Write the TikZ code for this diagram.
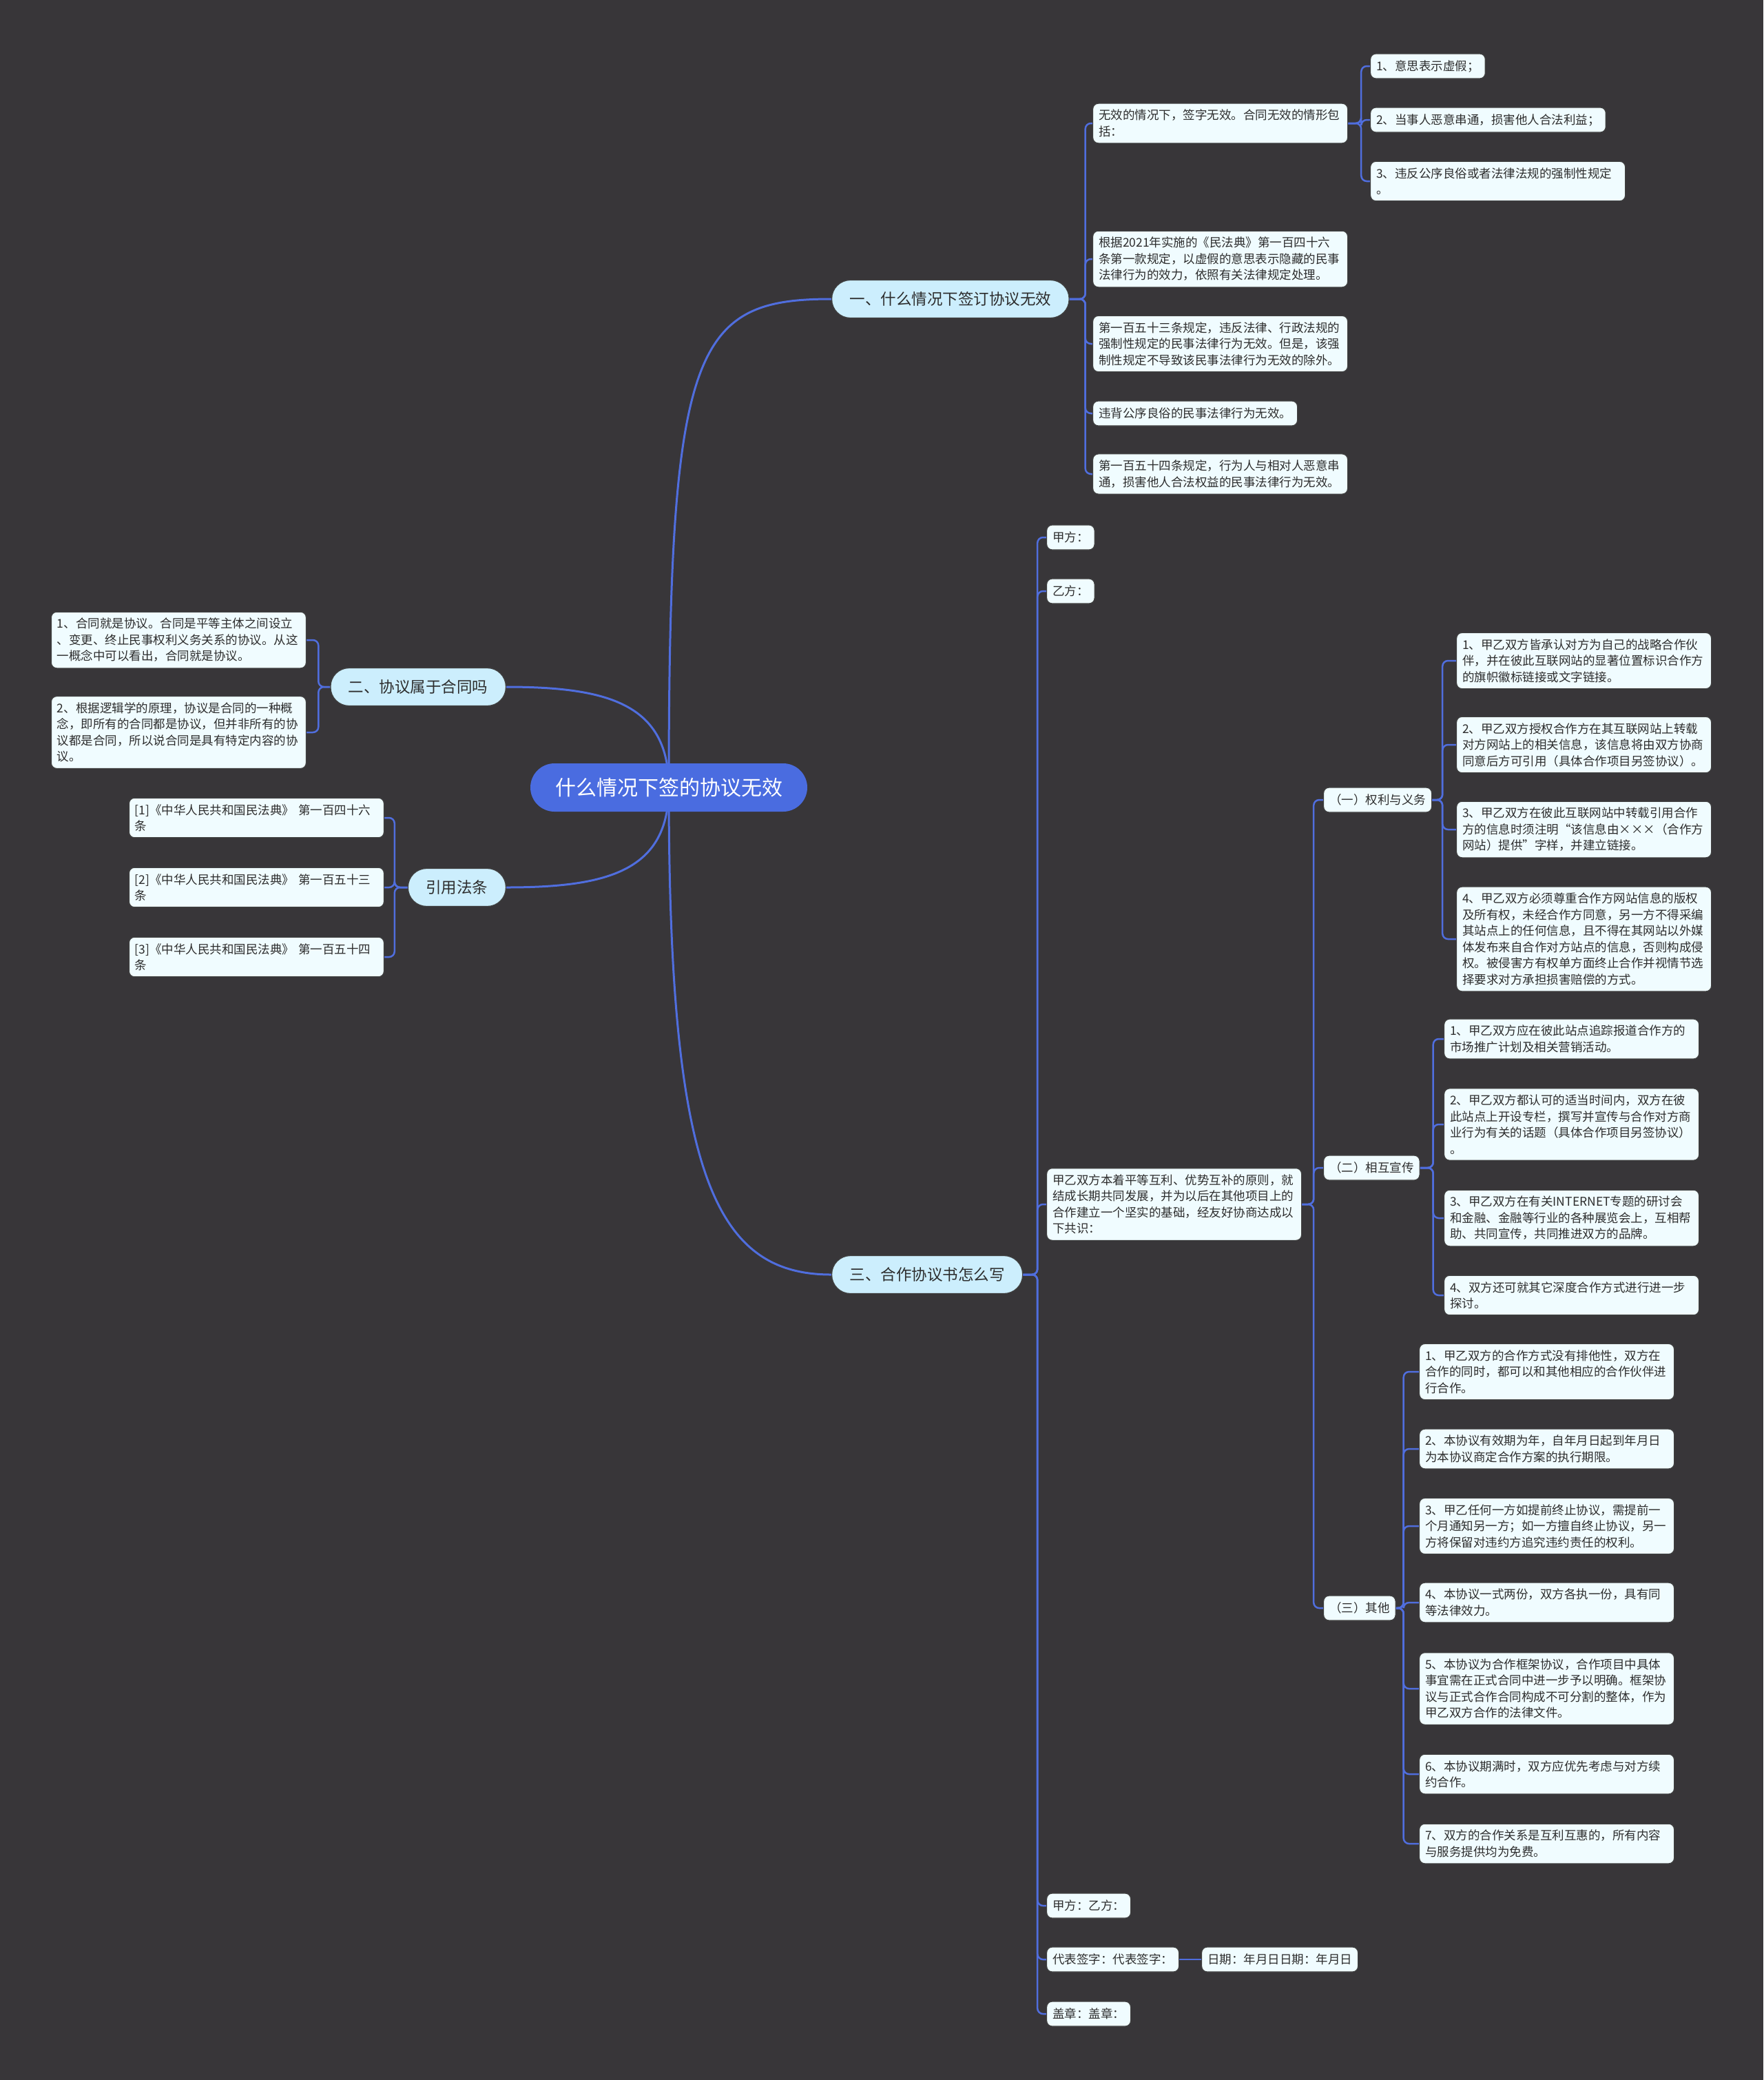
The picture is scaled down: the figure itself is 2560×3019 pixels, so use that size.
\documentclass[tikz,border=0pt]{standalone}
\usepackage{fontspec}
\setmainfont{Noto Sans CJK SC}
\usetikzlibrary{backgrounds}
\definecolor{bgdark}{RGB}{56,54,57}
\definecolor{linkblue}{RGB}{80,110,222}
\definecolor{rootblue}{RGB}{74,108,224}
\definecolor{topicfill}{RGB}{204,238,253}
\definecolor{leaffill}{RGB}{240,252,255}
\definecolor{inkgray}{RGB}{45,45,45}

\begin{document}
\begin{tikzpicture}[
    x=1pt, y=-1pt,
    root/.style = {rectangle, fill=rootblue, text=white, rounded corners=35pt, font=\fontsize{30}{36}\selectfont, minimum height=70pt, inner xsep=36pt},
    topic/.style = {rectangle, draw=black!75, line width=1.2pt, fill=topicfill, text=inkgray, rounded corners=27pt, font=\fontsize{22.5}{27}\selectfont, minimum height=55pt, inner xsep=26pt},
    box/.style = {rectangle, draw=black!75, line width=1.2pt, fill=leaffill, text=inkgray, rounded corners=8pt, font=\fontsize{17.5}{23.5}\selectfont, inner xsep=8.5pt, inner ysep=9pt, minimum height=36pt},
    leaf/.style = {box, text width=353pt, align=left},
    tag/.style = {box},
    rootlink/.style = {draw=linkblue, line width=3pt},
    link/.style = {draw=linkblue, line width=2.5pt, rounded corners=8pt}
]
\useasboundingbox (0,0) rectangle (2560,3019);

% Centre
\node (root) [root] at (971, 1143) {什么情况下签的协议无效};

% Main topics
\node (a) [topic, anchor=west] at (1207, 434) {一、什么情况下签订协议无效};
\node (b) [topic, anchor=east] at (735, 997) {二、协议属于合同吗};
\node (c) [topic, anchor=east] at (735, 1288) {引用法条};
\node (d) [topic, anchor=west] at (1207, 1850) {三、合作协议书怎么写};

% Topic one
\node (a1) [leaf, anchor=west] at (1586, 179) {无效的情况下，签字无效。合同无效的情形包\\括：};
\node (a1a) [tag, anchor=west] at (1989, 96) {1、意思表示虚假；};
\node (a1b) [tag, anchor=west] at (1989, 174) {2、当事人恶意串通，损害他人合法利益；};
\node (a1c) [leaf, anchor=west] at (1989, 263) {3、违反公序良俗或者法律法规的强制性规定\\。};
\node (a2) [leaf, anchor=west] at (1586, 376) {根据2021年实施的《民法典》第一百四十六\\条第一款规定，以虚假的意思表示隐藏的民事\\法律行为的效力，依照有关法律规定处理。};
\node (a3) [leaf, anchor=west] at (1586, 499) {第一百五十三条规定，违反法律、行政法规的\\强制性规定的民事法律行为无效。但是，该强\\制性规定不导致该民事法律行为无效的除外。};
\node (a4) [tag, anchor=west] at (1586, 600) {违背公序良俗的民事法律行为无效。};
\node (a5) [leaf, anchor=west] at (1586, 688) {第一百五十四条规定，行为人与相对人恶意串\\通，损害他人合法权益的民事法律行为无效。};

% Topic two
\node (b1) [leaf, anchor=east] at (445, 929) {1、合同就是协议。合同是平等主体之间设立\\、变更、终止民事权利义务关系的协议。从这\\一概念中可以看出，合同就是协议。};
\node (b2) [leaf, anchor=east] at (445, 1063) {2、根据逻辑学的原理，协议是合同的一种概\\念，即所有的合同都是协议，但并非所有的协\\议都是合同，所以说合同是具有特定内容的协\\议。};

% Cited articles
\node (c1) [leaf, anchor=east] at (558, 1187) {[1]《中华人民共和国民法典》 第一百四十六\\条};
\node (c2) [leaf, anchor=east] at (558, 1288) {[2]《中华人民共和国民法典》 第一百五十三\\条};
\node (c3) [leaf, anchor=east] at (558, 1389) {[3]《中华人民共和国民法典》 第一百五十四\\条};

% Topic three
\node (d1) [tag, anchor=west] at (1519, 780) {甲方：};
\node (d2) [tag, anchor=west] at (1519, 858) {乙方：};
\node (d3) [leaf, anchor=west] at (1519, 1748) {甲乙双方本着平等互利、优势互补的原则，就\\结成长期共同发展，并为以后在其他项目上的\\合作建立一个坚实的基础，经友好协商达成以\\下共识：};
\node (d4) [tag, anchor=west] at (1519, 2766) {甲方：乙方：};
\node (d5) [tag, anchor=west] at (1519, 2844) {代表签字：代表签字：};
\node (d5a) [tag, anchor=west] at (1744, 2844) {日期：年月日日期：年月日};
\node (d6) [tag, anchor=west] at (1519, 2923) {盖章：盖章：};

% Sections of the agreement
\node (e1) [tag, anchor=west] at (1921, 1161) {（一）权利与义务};
\node (e2) [tag, anchor=west] at (1921, 1695) {（二）相互宣传};
\node (e3) [tag, anchor=west] at (1921, 2334) {（三）其他};

\node (e1a) [leaf, anchor=west] at (2114, 959) {1、甲乙双方皆承认对方为自己的战略合作伙\\伴，并在彼此互联网站的显著位置标识合作方\\的旗帜徽标链接或文字链接。};
\node (e1b) [leaf, anchor=west] at (2114, 1081) {2、甲乙双方授权合作方在其互联网站上转载\\对方网站上的相关信息，该信息将由双方协商\\同意后方可引用（具体合作项目另签协议）。};
\node (e1c) [leaf, anchor=west] at (2114, 1204) {3、甲乙双方在彼此互联网站中转载引用合作\\方的信息时须注明“该信息由×××（合作方\\网站）提供”字样，并建立链接。};
\node (e1d) [leaf, anchor=west] at (2114, 1363) {4、甲乙双方必须尊重合作方网站信息的版权\\及所有权，未经合作方同意，另一方不得采编\\其站点上的任何信息，且不得在其网站以外媒\\体发布来自合作对方站点的信息，否则构成侵\\权。被侵害方有权单方面终止合作并视情节选\\择要求对方承担损害赔偿的方式。};

\node (e2a) [leaf, anchor=west] at (2096, 1508) {1、甲乙双方应在彼此站点追踪报道合作方的\\市场推广计划及相关营销活动。};
\node (e2b) [leaf, anchor=west] at (2096, 1632) {2、甲乙双方都认可的适当时间内，双方在彼\\此站点上开设专栏，撰写并宣传与合作对方商\\业行为有关的话题（具体合作项目另签协议）\\。};
\node (e2c) [leaf, anchor=west] at (2096, 1768) {3、甲乙双方在有关INTERNET专题的研讨会\\和金融、金融等行业的各种展览会上，互相帮\\助、共同宣传，共同推进双方的品牌。};
\node (e2d) [leaf, anchor=west] at (2096, 1880) {4、双方还可就其它深度合作方式进行进一步\\探讨。};

\node (e3a) [leaf, anchor=west] at (2060, 1991) {1、甲乙双方的合作方式没有排他性，双方在\\合作的同时，都可以和其他相应的合作伙伴进\\行合作。};
\node (e3b) [leaf, anchor=west] at (2060, 2103) {2、本协议有效期为年，自年月日起到年月日\\为本协议商定合作方案的执行期限。};
\node (e3c) [leaf, anchor=west] at (2060, 2215) {3、甲乙任何一方如提前终止协议，需提前一\\个月通知另一方；如一方擅自终止协议，另一\\方将保留对违约方追究违约责任的权利。};
\node (e3d) [leaf, anchor=west] at (2060, 2326) {4、本协议一式两份，双方各执一份，具有同\\等法律效力。};
\node (e3e) [leaf, anchor=west] at (2060, 2451) {5、本协议为合作框架协议，合作项目中具体\\事宜需在正式合同中进一步予以明确。框架协\\议与正式合作合同构成不可分割的整体，作为\\甲乙双方合作的法律文件。};
\node (e3f) [leaf, anchor=west] at (2060, 2575) {6、本协议期满时，双方应优先考虑与对方续\\约合作。};
\node (e3g) [leaf, anchor=west] at (2060, 2676) {7、双方的合作关系是互利互惠的，所有内容\\与服务提供均为免费。};

% Links
\begin{pgfonlayer}{background}
\fill [bgdark] (0,0) rectangle (2560,3019);

\draw [rootlink] (root.center) .. controls +(0,-640) and +(-200,0) .. (a.west);
\draw [rootlink] (root.center) .. controls +(0,-120) and +(150,0) .. (b.east);
\draw [rootlink] (root.center) .. controls +(0,120) and +(150,0) .. (c.east);
\draw [rootlink] (root.center) .. controls +(0,560) and +(-170,0) .. (d.west);

\draw [link] (a.east) -- ++(23,0) |- (a1.west);
\draw [link] (a.east) -- ++(23,0) |- (a2.west);
\draw [link] (a.east) -- ++(23,0) |- (a3.west);
\draw [link] (a.east) -- ++(23,0) |- (a4.west);
\draw [link] (a.east) -- ++(23,0) |- (a5.west);
\draw [link] (a1.east) -- ++(19,0) |- (a1a.west);
\draw [link] (a1.east) -- ++(19,0) |- (a1b.west);
\draw [link] (a1.east) -- ++(19,0) |- (a1c.west);

\draw [link] (b.west) -- ++(-17,0) |- (b1.east);
\draw [link] (b.west) -- ++(-17,0) |- (b2.east);

\draw [link] (c.west) -- ++(-19,0) |- (c1.east);
\draw [link] (c.west) -- ++(-19,0) |- (c2.east);
\draw [link] (c.west) -- ++(-19,0) |- (c3.east);

\draw [link] (d.east) -- ++(21,0) |- (d1.west);
\draw [link] (d.east) -- ++(21,0) |- (d2.west);
\draw [link] (d.east) -- ++(21,0) |- (d3.west);
\draw [link] (d.east) -- ++(21,0) |- (d4.west);
\draw [link] (d.east) -- ++(21,0) |- (d5.west);
\draw [link] (d.east) -- ++(21,0) |- (d6.west);
\draw [link] (d5.east) -- (d5a.west);

\draw [link] (d3.east) -- ++(17,0) |- (e1.west);
\draw [link] (d3.east) -- ++(17,0) |- (e2.west);
\draw [link] (d3.east) -- ++(17,0) |- (e3.west);

\draw [link] (e1.east) -- ++(15,0) |- (e1a.west);
\draw [link] (e1.east) -- ++(15,0) |- (e1b.west);
\draw [link] (e1.east) -- ++(15,0) |- (e1c.west);
\draw [link] (e1.east) -- ++(15,0) |- (e1d.west);

\draw [link] (e2.east) -- ++(19,0) |- (e2a.west);
\draw [link] (e2.east) -- ++(19,0) |- (e2b.west);
\draw [link] (e2.east) -- ++(19,0) |- (e2c.west);
\draw [link] (e2.east) -- ++(19,0) |- (e2d.west);

\draw [link] (e3.east) -- ++(11,0) |- (e3a.west);
\draw [link] (e3.east) -- ++(11,0) |- (e3b.west);
\draw [link] (e3.east) -- ++(11,0) |- (e3c.west);
\draw [link] (e3.east) -- ++(11,0) |- (e3d.west);
\draw [link] (e3.east) -- ++(11,0) |- (e3e.west);
\draw [link] (e3.east) -- ++(11,0) |- (e3f.west);
\draw [link] (e3.east) -- ++(11,0) |- (e3g.west);
\end{pgfonlayer}
\end{tikzpicture}
\end{document}
